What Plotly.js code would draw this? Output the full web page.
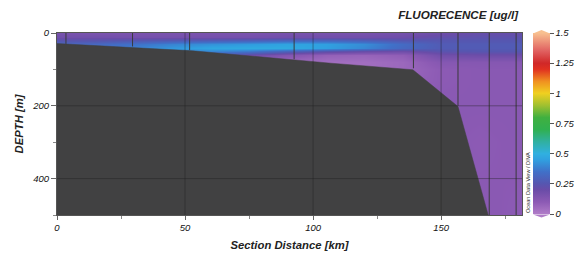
<!DOCTYPE html>
<html>
<head>
<meta charset="utf-8">
<script src="https://cdn.plot.ly/plotly-3.0.1.min.js"></script>
<style>html,body{margin:0;padding:0;background:#fff}#chart{width:579px;height:256px}</style>
</head>
<body>
<div id="chart"></div>
<script>
// ---- data ----
var distanceKm = [0, 15, 30, 45, 60, 75, 90, 105, 120, 135, 150, 165, 182];
var depthM = [0, 10, 20, 30, 40, 50, 60, 80, 100, 130, 200, 300, 500];
var fluorescence = [
  [0.16,0.15,0.15,0.15,0.15,0.15,0.16,0.16,0.16,0.17,0.19,0.21,0.21],
  [0.18,0.18,0.17,0.17,0.17,0.17,0.18,0.18,0.18,0.19,0.22,0.23,0.23],
  [0.24,0.24,0.25,0.26,0.27,0.28,0.30,0.30,0.28,0.25,0.25,0.25,0.25],
  [0.31,0.32,0.35,0.39,0.42,0.44,0.46,0.45,0.41,0.33,0.27,0.27,0.27],
  [0.33,0.34,0.38,0.43,0.47,0.48,0.48,0.45,0.40,0.32,0.27,0.27,0.27],
  [0.30,0.31,0.34,0.38,0.40,0.37,0.31,0.25,0.21,0.19,0.24,0.25,0.25],
  [0.25,0.26,0.28,0.30,0.28,0.20,0.13,0.08,0.07,0.09,0.18,0.19,0.19],
  [0.16,0.16,0.16,0.15,0.11,0.07,0.05,0.04,0.04,0.06,0.12,0.12,0.12],
  [0.12,0.12,0.12,0.11,0.09,0.07,0.05,0.04,0.04,0.06,0.10,0.11,0.11],
  [0.11,0.11,0.11,0.11,0.10,0.09,0.08,0.07,0.07,0.07,0.10,0.11,0.11],
  [0.11,0.11,0.11,0.11,0.11,0.11,0.11,0.10,0.10,0.10,0.11,0.11,0.11],
  [0.11,0.11,0.11,0.11,0.11,0.11,0.11,0.11,0.11,0.10,0.11,0.10,0.11],
  [0.11,0.11,0.11,0.11,0.11,0.11,0.11,0.11,0.11,0.11,0.10,0.11,0.10]
];
var bathyKm = [0, 53, 107, 139, 156.6, 168.4];
var bathyDepth = [29, 49, 83, 101, 202, 500];
var stationKm = [3.5, 29.5, 51.8, 92.6, 139.2, 156.6, 168.8, 179.3];
var stationBottom = [30, 37, 47, 72, 97, 200, 500, 500];
var xTicks = [0, 50, 100, 150];
var yTicks = [0, 200, 400];
var cbTicks = [0, 0.25, 0.5, 0.75, 1, 1.25, 1.5];
var cbLabels = ['0', '0.25', '0.5', '0.75', '1', '1.25', '1.5'];

// ---- styling ----
var odv = [
  [0.000, '#b07cc8'],
  [0.067, '#8c5ab4'],
  [0.133, '#6a4ca8'],
  [0.167, '#5656b0'],
  [0.233, '#4070c8'],
  [0.300, '#30a0e0'],
  [0.333, '#30b0e0'],
  [0.400, '#30b0a0'],
  [0.467, '#30b050'],
  [0.533, '#40b040'],
  [0.600, '#a0c030'],
  [0.667, '#f0d020'],
  [0.733, '#f09020'],
  [0.800, '#e03020'],
  [0.833, '#d02828'],
  [0.900, '#e06060'],
  [1.000, '#f8c090']
];

var W = 579, H = 256, L = 57, R = 57, T = 33, B = 41;
var pw = W - L - R, ph = H - T - B;
function px2x(p) { return (p - L) / pw; }
function px2y(p) { return (H - B - p) / ph; }

var heat = {
  type: 'heatmap', x: distanceKm, y: depthM, z: fluorescence,
  zmin: 0, zmax: 1.5, zsmooth: 'best', colorscale: odv,
  hoverinfo: 'skip',
  colorbar: {
    thickness: 17, thicknessmode: 'pixels',
    len: 181, lenmode: 'pixels',
    x: px2x(533), xanchor: 'left', xpad: 0,
    y: px2y(123.5), yanchor: 'middle', ypad: 0,
    outlinewidth: 0,
    tickvals: cbTicks, ticktext: cbLabels,
    ticks: 'outside', ticklen: 4, tickcolor: '#555',
    tickfont: {family: 'Liberation Sans, Arial, sans-serif', size: 9.5, style: 'italic', color: '#111'}
  }
};

var bx = bathyKm.concat([0]);
var by = bathyDepth.concat([500]);
var bathy = {
  type: 'scatter', mode: 'lines', x: bx, y: by, fill: 'toself',
  fillcolor: '#414142', line: {color: '#414142', width: 0.5}, hoverinfo: 'skip', showlegend: false
};

var sx = [], sy = [];
for (var i = 0; i < stationKm.length; i++) {
  sx.push(stationKm[i], stationKm[i], null);
  sy.push(0, stationBottom[i], null);
}
var stations = {
  type: 'scatter', mode: 'lines', x: sx, y: sy,
  line: {color: '#3a3a3c', width: 1}, hoverinfo: 'skip', showlegend: false
};

var shapes = [];
xTicks.forEach(function (v) {
  if (v > 0) shapes.push({type: 'line', xref: 'x', yref: 'y', x0: v, x1: v, y0: 0, y1: 500,
    line: {color: 'rgba(30,30,30,0.4)', width: 1}, layer: 'above'});
});
yTicks.forEach(function (v) {
  if (v > 0) shapes.push({type: 'line', xref: 'x', yref: 'y', x0: 0, x1: 181.6, y0: v, y1: v,
    line: {color: 'rgba(30,30,30,0.4)', width: 1}, layer: 'above'});
});
// colorbar end arrows
var cbL = 533, cbR = 550, cbTop = 33, cbBot = 214;
shapes.push({type: 'path', xref: 'paper', yref: 'paper',
  path: 'M' + px2x(cbL) + ',' + px2y(cbTop + 0.5) + ' L' + px2x((cbL + cbR) / 2) + ',' + px2y(cbTop - 3) + ' L' + px2x(cbR) + ',' + px2y(cbTop + 0.5) + ' Z',
  fillcolor: '#f8c090', line: {width: 0}});
shapes.push({type: 'path', xref: 'paper', yref: 'paper',
  path: 'M' + px2x(cbL) + ',' + px2y(cbBot + 0.5) + ' L' + px2x((cbL + cbR) / 2) + ',' + px2y(cbBot + 3.5) + ' L' + px2x(cbR) + ',' + px2y(cbBot + 0.5) + ' Z',
  fillcolor: '#b07cc8', line: {width: 0}});

var tickFont = {family: 'Liberation Sans, Arial, sans-serif', size: 9.5, style: 'italic', color: '#111'};
var titleFont = {family: 'Liberation Sans, Arial, sans-serif', size: 11.3, style: 'italic', weight: 'bold', color: '#222'};

var layout = {
  width: W, height: H,
  margin: {l: L, r: R, t: T, b: B, pad: 0, autoexpand: false},
  paper_bgcolor: '#ffffff', plot_bgcolor: '#ffffff',
  showlegend: false,
  title: {text: 'FLUORECENCE [ug/l]', xref: 'paper', x: px2x(518), xanchor: 'right',
    yref: 'container', y: 1 - 15 / H, yanchor: 'middle',
    font: {family: 'Liberation Sans, Arial, sans-serif', size: 11.6, style: 'italic', weight: 'bold', color: '#222'}},
  xaxis: {
    range: [0, 181.6], tickvals: xTicks, ticktext: xTicks.map(String),
    ticks: 'outside', ticklen: 4, tickcolor: '#666', tickwidth: 1,
    minor: {tick0: 0, dtick: 25, ticks: 'outside', ticklen: 3, tickcolor: '#888', showgrid: false},
    showgrid: false, zeroline: false, showline: true, mirror: true, linecolor: '#555', linewidth: 1,
    tickfont: tickFont, automargin: false,
    title: {text: 'Section Distance [km]', font: titleFont, standoff: 8}
  },
  yaxis: {
    range: [500, 0], tickvals: yTicks, ticktext: yTicks.map(String),
    ticks: 'outside', ticklen: 5, tickcolor: '#666', tickwidth: 1,
    minor: {tick0: 0, dtick: 100, ticks: 'outside', ticklen: 3, tickcolor: '#888', showgrid: false},
    showgrid: false, zeroline: false, showline: true, mirror: true, linecolor: '#555', linewidth: 1,
    tickfont: tickFont, automargin: false,
    title: {text: 'DEPTH [m]', font: titleFont, standoff: 6}
  },
  shapes: shapes,
  annotations: [{
    text: 'Ocean Data View / DIVA', xref: 'paper', yref: 'paper',
    x: px2x(528), y: px2y(183), xanchor: 'center', yanchor: 'middle',
    textangle: -90, showarrow: false,
    font: {family: 'Liberation Sans, Arial, sans-serif', size: 5.6, color: '#333'}
  }]
};

Plotly.newPlot('chart', [heat, bathy, stations], layout, {staticPlot: true, displayModeBar: false});
</script>
</body>
</html>
